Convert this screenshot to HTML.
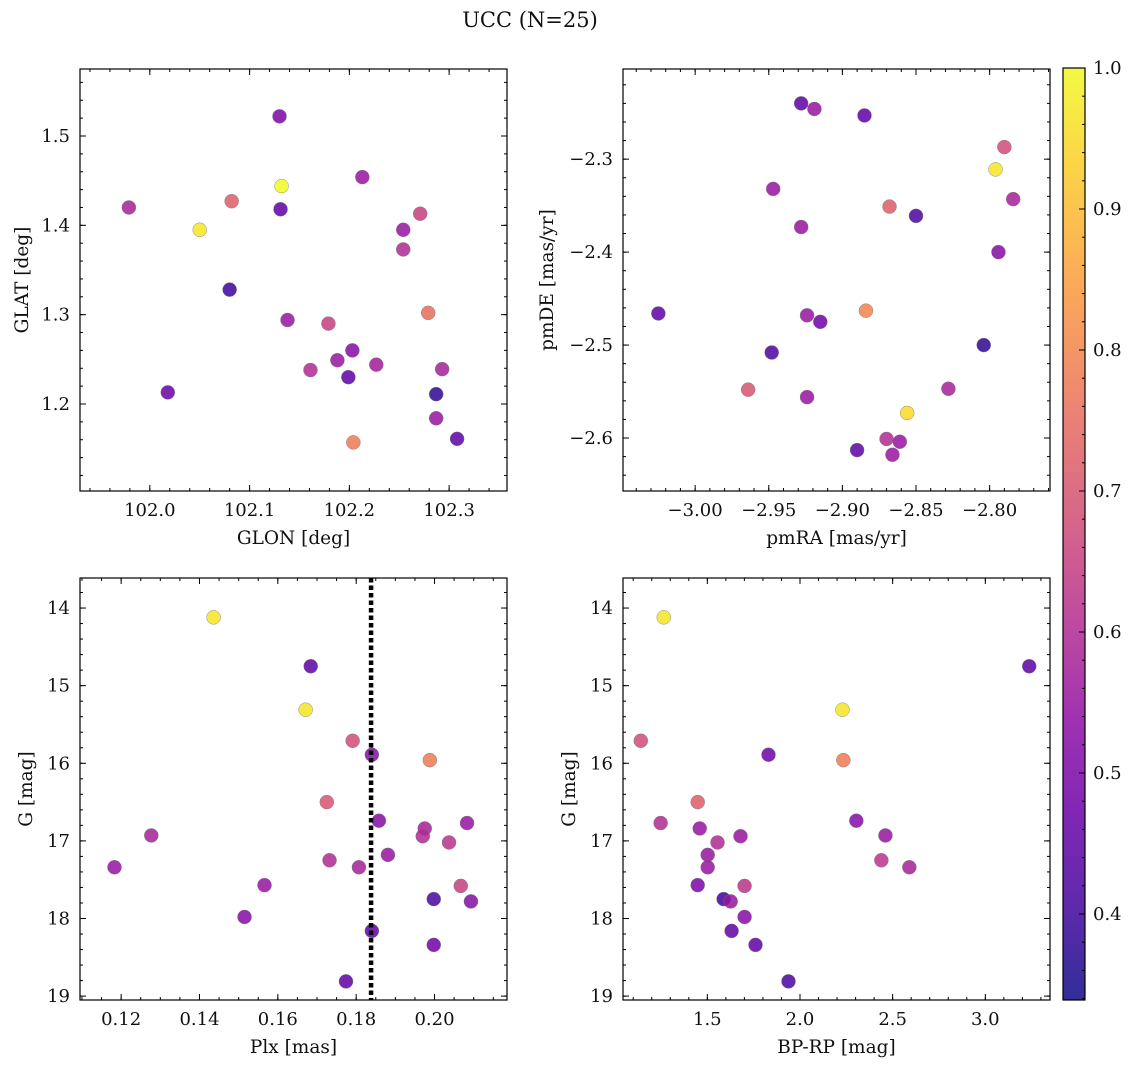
<!DOCTYPE html>
<html><head><meta charset="utf-8"><style>
body{margin:0;background:#fff;}
svg text{font-family:"DejaVu Serif","Liberation Serif",serif;fill:#111;}
</style></head><body>
<svg id="fig" width="1136" height="1068" xmlns="http://www.w3.org/2000/svg">
<text x="530" y="27" font-size="21" text-anchor="middle">UCC (N=25)</text>
</svg>
<script>
// Panel 1: GLON vs GLAT
const p1_x=[101.979,102.050,102.082,102.018,102.080,102.130,102.132,102.131,102.138,102.161,102.179,102.188,102.199,102.203,102.204,102.213,102.227,102.254,102.254,102.271,102.279,102.287,102.287,102.293,102.308];
const p1_y=[1.420,1.395,1.427,1.213,1.328,1.522,1.444,1.418,1.294,1.238,1.290,1.249,1.230,1.260,1.157,1.454,1.244,1.395,1.373,1.413,1.302,1.211,1.184,1.239,1.161];
const p1_c=[0.58,0.97,0.72,0.47,0.40,0.50,1.0,0.45,0.55,0.60,0.65,0.55,0.45,0.52,0.78,0.55,0.57,0.55,0.60,0.65,0.75,0.38,0.55,0.58,0.45];
// Panel 2: pmRA vs pmDE
const p2_x=[-3.025,-2.964,-2.948,-2.947,-2.928,-2.928,-2.919,-2.885,-2.924,-2.915,-2.924,-2.890,-2.870,-2.866,-2.861,-2.884,-2.868,-2.856,-2.850,-2.828,-2.804,-2.796,-2.794,-2.790,-2.784];
const p2_y=[-2.466,-2.548,-2.508,-2.332,-2.373,-2.240,-2.246,-2.253,-2.468,-2.475,-2.556,-2.613,-2.601,-2.618,-2.604,-2.463,-2.351,-2.573,-2.361,-2.547,-2.500,-2.311,-2.400,-2.287,-2.343];
const p2_c=[0.45,0.70,0.42,0.55,0.55,0.45,0.55,0.45,0.55,0.48,0.55,0.45,0.60,0.55,0.55,0.80,0.72,0.95,0.42,0.58,0.38,0.97,0.52,0.68,0.58];
// Panel 3: Plx vs G
const p3_x=[0.1183,0.1277,0.1436,0.1515,0.1566,0.1671,0.1684,0.1725,0.1732,0.1791,0.1807,0.1774,0.1840,0.1840,0.1858,0.1881,0.1988,0.1975,0.1970,0.1998,0.1998,0.2037,0.2067,0.2083,0.2093];
const p3_y=[17.34,16.93,14.12,17.98,17.57,15.31,14.75,16.50,17.25,15.71,17.34,18.81,15.89,18.16,16.74,17.18,15.96,16.84,16.94,17.75,18.34,17.02,17.58,16.77,17.78];
const p3_c=[0.55,0.58,0.97,0.52,0.55,0.97,0.45,0.70,0.60,0.68,0.58,0.45,0.52,0.45,0.52,0.55,0.78,0.58,0.60,0.42,0.48,0.62,0.65,0.55,0.52];
const plxLine=[0.1838];
// Panel 4: BP-RP vs G
const p4_x=[1.265,3.237,1.141,2.229,2.234,1.830,1.448,1.248,1.459,1.679,1.555,2.304,2.461,1.502,1.502,2.439,2.590,1.448,1.701,1.588,1.626,1.701,1.631,1.760,1.938];
const p4_y=[14.12,14.75,15.71,15.31,15.96,15.89,16.50,16.77,16.84,16.94,17.02,16.74,16.93,17.18,17.34,17.25,17.34,17.57,17.58,17.75,17.78,17.98,18.16,18.34,18.81];
const p4_c=[0.97,0.45,0.68,0.97,0.78,0.48,0.72,0.60,0.55,0.55,0.60,0.52,0.55,0.55,0.55,0.62,0.58,0.50,0.62,0.40,0.55,0.52,0.45,0.45,0.42];
const cbTicks=[0.4,0.5,0.6,0.7,0.8,0.9,1.0];

const NS="http://www.w3.org/2000/svg";
const svg=document.getElementById('fig');
function mk(tag,attrs,parent){const e=document.createElementNS(NS,tag);for(const k in attrs)e.setAttribute(k,attrs[k]);(parent||svg).appendChild(e);return e;}
const stops=[[13,8,135],[65,4,157],[106,0,168],[143,13,164],[177,42,144],[204,71,120],[225,100,98],[242,132,75],[252,166,54],[252,206,37],[240,249,33]];
const CMIN=0.339,CMAX=1.0;
function plasma(v){let t=(v-CMIN)/(CMAX-CMIN);t=Math.max(0,Math.min(1,t));const f=t*10,i=Math.min(9,Math.floor(f)),r=f-i;const a=stops[i],b=stops[i+1];return `rgb(${a.map((x,j)=>Math.round(x+(b[j]-x)*r)).join(',')})`;}
function fmt(v,d){const s=Math.abs(v).toFixed(d);return (v<0?'\u2212':'')+s;}

function panel(o){
  const {name,L,T,R,B,xmin,xmax,ymin,ymax,invertY,xMaj,xMin,yMaj,yMin,xd,yd,xlabel,ylabel,xs,ys,cs}=o;
  const X=v=>L+(v-xmin)/(xmax-xmin)*(R-L);
  const Y=v=>invertY? T+(v-ymin)/(ymax-ymin)*(B-T) : B-(v-ymin)/(ymax-ymin)*(B-T);
  const g=mk('g',{});
  
  
  for(let i=0;i<xs.length;i++){
    const c=mk('circle',{cx:X(xs[i]),cy:Y(ys[i]),r:7,fill:plasma(cs[i]),'fill-opacity':0.85,stroke:'#777','stroke-width':0.4},g);
    
    
  }
  if(o.vline){for(const v of o.vline){const l=mk('line',{x1:X(v),x2:X(v),y1:T,y2:B,stroke:'#000','stroke-width':4.5,'stroke-dasharray':'4.5,3'},g);
    }}
  const f=mk('rect',{x:L,y:T,width:R-L,height:B-T,fill:'none',stroke:'#000','stroke-width':1.2},g);
  
  const eps=1e-9;
  for(let v=Math.ceil(xmin/xMin)*xMin;v<=xmax+eps;v+=xMin){const x=X(v);mk('line',{x1:x,x2:x,y1:B,y2:B-3,stroke:'#000'},g);mk('line',{x1:x,x2:x,y1:T,y2:T+3,stroke:'#000'},g);}
  for(let v=Math.ceil(ymin/yMin)*yMin;v<=ymax+eps;v+=yMin){const y=Y(v);mk('line',{x1:L,x2:L+3,y1:y,y2:y,stroke:'#000'},g);mk('line',{x1:R,x2:R-3,y1:y,y2:y,stroke:'#000'},g);}
  for(const v of xMaj){const x=X(v);mk('line',{x1:x,x2:x,y1:B,y2:B-6,stroke:'#000'},g);mk('line',{x1:x,x2:x,y1:T,y2:T+6,stroke:'#000'},g);
    const t=mk('text',{x:x,y:B+25,'font-size':18,'text-anchor':'middle'},g);t.textContent=fmt(v,xd);
    }
  for(const v of yMaj){const y=Y(v);mk('line',{x1:L,x2:L+6,y1:y,y2:y,stroke:'#000'},g);mk('line',{x1:R,x2:R-6,y1:y,y2:y,stroke:'#000'},g);
    const t=mk('text',{x:L-10,y:y+6,'font-size':18,'text-anchor':'end'},g);t.textContent=fmt(v,yd);
    }
  const xl=mk('text',{x:(L+R)/2,y:B+53,'font-size':18.5,'text-anchor':'middle'},g);xl.textContent=xlabel;
  
  const yx=o.ylx, yy=(T+B)/2;
  const yl=mk('text',{x:yx,y:yy,'font-size':18.5,'text-anchor':'middle',transform:`rotate(-90 ${yx} ${yy})`},g);yl.textContent=ylabel;
  
}
panel({name:'glon-glat-panel',L:80,T:69,R:507,B:491,xmin:101.930,xmax:102.358,ymin:1.1026,ymax:1.575,xMaj:[102.0,102.1,102.2,102.3],xMin:0.02,yMaj:[1.2,1.3,1.4,1.5],yMin:0.02,xd:1,yd:1,xlabel:'GLON [deg]',ylabel:'GLAT [deg]',ylx:28,xs:p1_x,ys:p1_y,cs:p1_c});
panel({name:'pm-panel',L:623,T:69,R:1050,B:491,xmin:-3.049,xmax:-2.759,ymin:-2.657,ymax:-2.203,xMaj:[-3.0,-2.95,-2.9,-2.85,-2.8],xMin:0.01,yMaj:[-2.6,-2.5,-2.4,-2.3],yMin:0.02,xd:2,yd:1,xlabel:'pmRA [mas/yr]',ylabel:'pmDE [mas/yr]',ylx:553,xs:p2_x,ys:p2_y,cs:p2_c});
panel({name:'plx-g-panel',L:80,T:578,R:507,B:1000,xmin:0.1095,xmax:0.2185,ymin:13.613,ymax:19.05,invertY:true,xMaj:[0.12,0.14,0.16,0.18,0.20],xMin:0.005,yMaj:[14,15,16,17,18,19],yMin:0.2,xd:2,yd:0,xlabel:'Plx [mas]',ylabel:'G [mag]',ylx:32,xs:p3_x,ys:p3_y,cs:p3_c,vline:plxLine});
panel({name:'cmd-panel',L:623,T:578,R:1050,B:1000,xmin:1.045,xmax:3.349,ymin:13.613,ymax:19.05,invertY:true,xMaj:[1.5,2.0,2.5,3.0],xMin:0.1,yMaj:[14,15,16,17,18,19],yMin:0.2,xd:1,yd:0,xlabel:'BP-RP [mag]',ylabel:'G [mag]',ylx:575,xs:p4_x,ys:p4_y,cs:p4_c});

// colorbar
const cb=mk('g',{});


const defs=mk('defs',{},svg);
const lg=mk('linearGradient',{id:'pl',x1:0,y1:1,x2:0,y2:0},defs);
for(let i=0;i<=20;i++){mk('stop',{offset:i/20,'stop-color':plasma(CMIN+(CMAX-CMIN)*i/20),'stop-opacity':0.85},lg);}
const cL=1063,cR=1085,cT=68,cB=1000;
mk('rect',{x:cL,y:cT,width:cR-cL,height:cB-cT,fill:'url(#pl)',stroke:'#000','stroke-width':1.2},cb);
const CY=v=>cB-(v-CMIN)/(CMAX-CMIN)*(cB-cT);
for(let v=0.34;v<=1.0001;v+=0.02){const y=CY(v);mk('line',{x1:cR,x2:cR-3,y1:y,y2:y,stroke:'#000'},cb);}
for(const v of cbTicks){const y=CY(v);mk('line',{x1:cR,x2:cR-6,y1:y,y2:y,stroke:'#000'},cb);
  const t=mk('text',{x:cR+8,y:y+6,'font-size':18},cb);t.textContent=v.toFixed(1);
  }
</script>
</body></html>
